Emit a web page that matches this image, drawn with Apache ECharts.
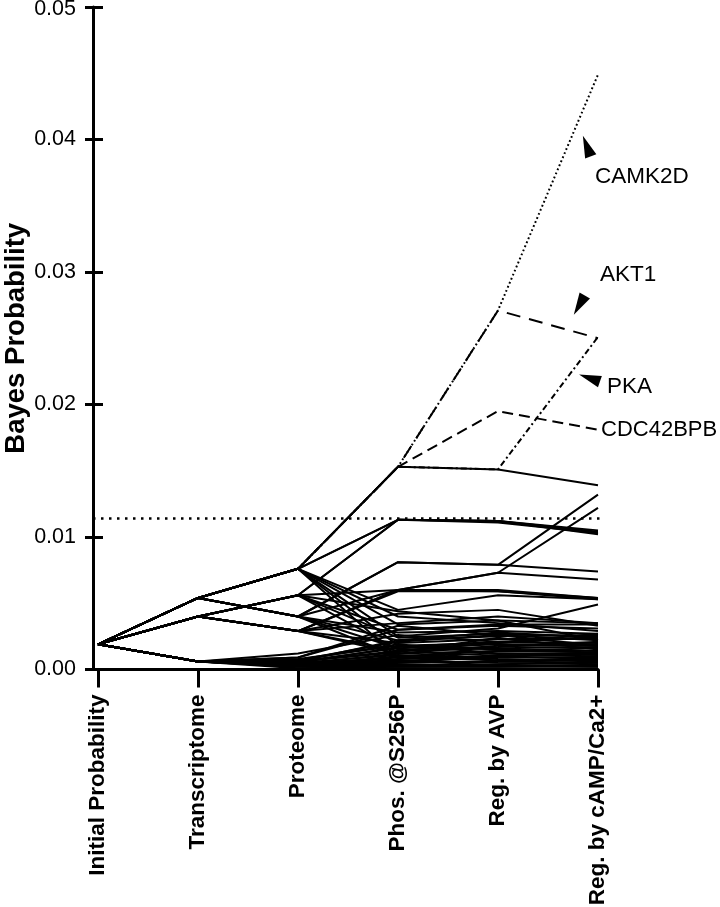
<!DOCTYPE html>
<html>
<head>
<meta charset="utf-8">
<script src="https://cdn.jsdelivr.net/npm/echarts@6/dist/echarts.min.js"></script>
<style>
html,body{margin:0;padding:0;background:#fff;}
#chart{width:720px;height:907px;}
</style>
</head>
<body>
<div id="chart"></div>
<script>
// ---------- DATA ----------
var categories = ['Initial Probability','Transcriptome','Proteome','Phos. @S256P','Reg. by AVP','Reg. by cAMP/Ca2+'];
var yTicks = [0.00, 0.01, 0.02, 0.03, 0.04, 0.05];
var threshold = 0.0114;

var camk2d   = [0.0019, 0.0054, 0.0076, 0.0153, 0.0271, 0.0449];
var akt1     = [0.0019, 0.0054, 0.0076, 0.0153, 0.0271, 0.0250];
var pka      = [0.0019, 0.0054, 0.0076, 0.0153, 0.0151, 0.0251];
var cdc42bpb = [0.0019, 0.0054, 0.0076, 0.0153, 0.0195, 0.0181];

var otherKinases = [
  [0.0019,0.0054,0.0076,0.0153,0.0151,0.0139],
  [0.0019,0.0054,0.0076,0.0113,0.0112,0.0104],
  [0.0019,0.0054,0.0076,0.0113,0.0112,0.0102],
  [0.0019,0.0040,0.0056,0.0113,0.0112,0.0105],
  [0.0019,0.0040,0.0056,0.0113,0.0111,0.0103],
  [0.0019,0.0054,0.0040,0.0081,0.0079,0.0074],
  [0.0019,0.0054,0.0040,0.0081,0.0079,0.0132],
  [0.0019,0.0040,0.0029,0.0060,0.0073,0.0068],
  [0.0019,0.0040,0.0029,0.0060,0.0073,0.0122],
  [0.0019,0.0054,0.0040,0.0060,0.0060,0.0054],
  [0.0019,0.0040,0.0056,0.0060,0.0059,0.0053],
  [0.0019,0.0040,0.0029,0.0059,0.0059,0.0054],
  [0.0019,0.0054,0.0076,0.0034,0.0037,0.0035],
  [0.0019,0.0054,0.0076,0.0025,0.0031,0.0049],
  [0.0019,0.0054,0.0076,0.0018,0.0020,0.0027],
  [0.0019,0.0054,0.0076,0.0009,0.0010,0.0013],
  [0.0019,0.0054,0.0076,0.0045,0.0056,0.0053],
  [0.0019,0.0040,0.0056,0.0030,0.0034,0.0034],
  [0.0019,0.0040,0.0056,0.0024,0.0027,0.0025],
  [0.0019,0.0040,0.0056,0.0015,0.0017,0.0021],
  [0.0019,0.0040,0.0029,0.0035,0.0040,0.0035],
  [0.0019,0.0040,0.0029,0.0020,0.0023,0.0023],
  [0.0019,0.0040,0.0029,0.0012,0.0014,0.0016],
  [0.0019,0.0054,0.0040,0.0028,0.0029,0.0027],
  [0.0019,0.0054,0.0040,0.0016,0.0019,0.0019],
  [0.0019,0.0054,0.0040,0.0010,0.0012,0.0011],
  [0.0019,0.0006,0.0009,0.0030,0.0033,0.0031],
  [0.0019,0.0006,0.0006,0.0022,0.0025,0.0026],
  [0.0019,0.0006,0.0006,0.0014,0.0016,0.0017],
  [0.0019,0.0006,0.0005,0.0008,0.0009,0.0009],
  [0.0019,0.0006,0.0004,0.0005,0.0006,0.0007],
  [0.0019,0.0006,0.0003,0.0003,0.0004,0.0005],
  [0.0019,0.0006,0.0002,0.0002,0.0002,0.0003],
  [0.0019,0.0006,0.0002,0.0001,0.0001,0.0001],
  [0.0019,0.0006,0.0012,0.0026,0.0021,0.0024],
  [0.0019,0.0006,0.0008,0.0018,0.0015,0.0014],
  [0.0019,0.0006,0.0005,0.0011,0.0008,0.0006],
  [0.0019,0.0006,0.0004,0.0007,0.0005,0.0004],
  [0.0019,0.0006,0.0003,0.0004,0.0003,0.0002],
  [0.0019,0.0006,0.0001,0.0001,0.0000,0.0000],
  [0.0019,0.0040,0.0029,0.0042,0.0045,0.0033],
  [0.0019,0.0054,0.0076,0.0040,0.0035,0.0029],
  [0.0019,0.0040,0.0056,0.0044,0.0037,0.0022],
  [0.0019,0.0006,0.0009,0.0033,0.0026,0.0018],
  [0.0019,0.0006,0.0007,0.0019,0.0012,0.0012],
  [0.0019,0.0006,0.0006,0.0013,0.0024,0.0015],
  [0.0019,0.0006,0.0005,0.0006,0.0011,0.0010],
  [0.0019,0.0006,0.0004,0.0009,0.0007,0.0008],
  [0.0019,0.0006,0.0005,0.0017,0.0021,0.0020],
  [0.0019,0.0006,0.0004,0.0012,0.0018,0.0018],
  [0.0019,0.0006,0.0003,0.0010,0.0014,0.0013],
  [0.0019,0.0006,0.0007,0.0021,0.0026,0.0022],
  [0.0019,0.0006,0.0005,0.0005,0.0010,0.0008],
  [0.0019,0.0040,0.0029,0.0014,0.0020,0.0025],
  [0.0019,0.0054,0.0040,0.0022,0.0028,0.0024],
  [0.0019,0.0006,0.0006,0.0016,0.0006,0.0005],
  [0.0019,0.0006,0.0003,0.0007,0.0003,0.0003]
];

// annotation labels (text + anchor in data units)
var annotationNames = ['CAMK2D','AKT1','PKA'];
var annotationX = [4.97, 5.02, 5.09];
var annotationY = [0.0372, 0.0298, 0.0213];
var arrowX = [4.888, 4.813, 4.915];
var arrowY = [0.0395, 0.0275, 0.0220];
var arrowRotate = [21, 150, 71];

// ---------- CHART ----------
var FONT = "'Liberation Sans', Arial, Helvetica, sans-serif";
function toPairs(arr){ return arr.map(function(v,i){ return [i, v]; }); }

var series = [];
otherKinases.forEach(function(p){
  series.push({type:'line', data: toPairs(p), showSymbol:false, silent:true,
    lineStyle:{color:'#000', width:2}, z:2});
});
series.push({type:'line', data: toPairs(camk2d), showSymbol:false, silent:true,
  lineStyle:{color:'#000', width:2, type:[1.8,2.6]}, z:3});
series.push({type:'line', data: toPairs(akt1), showSymbol:false, silent:true,
  lineStyle:{color:'#000', width:2, type:[14,9]}, z:3});
series.push({type:'line', data: toPairs(pka), showSymbol:false, silent:true,
  lineStyle:{color:'#000', width:2, type:[6,3,2,3]}, z:3});
series.push({type:'line', data: toPairs(cdc42bpb), showSymbol:false, silent:true,
  lineStyle:{color:'#000', width:2, type:[11,6]}, z:3,
  endLabel:{show:true, formatter:'CDC42BPB', fontFamily:FONT, fontSize:22, color:'#000', distance:3}});
// threshold
series.push({type:'line', data:[[-0.05, threshold],[5.22, threshold]], showSymbol:false, silent:true, clip:false,
  lineStyle:{color:'#000', width:2.5, type:[2.5,5.5]}, z:4});
// arrows
series.push({type:'scatter', clip:false, silent:true, z:5,
  data: arrowX.map(function(x,i){ return {value:[x, arrowY[i]], symbolRotate: arrowRotate[i]}; }),
  symbol:'triangle', symbolSize:[12,22], itemStyle:{color:'#000', opacity:1}});
// labels
series.push({type:'scatter', clip:false, silent:true, z:5,
  data: annotationX.map(function(x,i){ return {value:[x, annotationY[i]], name: annotationNames[i]}; }),
  symbolSize:0, itemStyle:{opacity:1, color:'#000'},
  label:{show:true, position:'right', distance:0, formatter:function(p){return p.name;},
    fontFamily:FONT, fontSize:22.5, color:'#000', opacity:1}});

var chart = echarts.init(document.getElementById('chart'), null, {renderer:'canvas'});
chart.setOption({
  animation:false,
  backgroundColor:'#fff',
  grid:{left:93, right:122, top:7, bottom:237.5, containLabel:false, outerBoundsMode:'none'},
  xAxis:{
    type:'value', min:-0.05, max:5,
    axisLine:{show:true, onZero:false, lineStyle:{color:'#000', width:3}},
    axisTick:{show:true, customValues:[0,1,2,3,4,5], length:18, lineStyle:{color:'#000', width:3}},
    axisLabel:{customValues:[0,1,2,3,4,5], rotate:90, margin:25, color:'#000',
      fontFamily:FONT, fontWeight:'bold', fontSize:22.5,
      formatter:function(v){ return categories[Math.round(v)]; }},
    splitLine:{show:false}
  },
  yAxis:[{
    type:'value', min:0, max:0.05, interval:0.01, position:'left',
    axisLine:{show:true, onZero:false, lineStyle:{color:'#000', width:3}},
    axisTick:{show:true, length:8, lineStyle:{color:'#000', width:3}},
    axisLabel:{margin:17, color:'#000', fontFamily:FONT, fontSize:21.5,
      formatter:function(v){ return v >= 0.0499 ? '{top|' + v.toFixed(2) + '}' : v.toFixed(2); },
      rich:{top:{fontFamily:FONT, fontSize:21.5, color:'#000', padding:[5,0,0,0]}}},
    splitLine:{show:false},
    name:'Bayes Probability', nameLocation:'middle', nameGap:63, nameMoveOverlap:false,
    nameTextStyle:{fontFamily:FONT, fontWeight:'bold', fontSize:27.5, color:'#000'}
  },{
    type:'value', min:0, max:0.05, interval:0.01, position:'left',
    axisLine:{show:false, onZero:false},
    axisTick:{show:true, inside:true, length:10, lineStyle:{color:'#000', width:3}},
    axisLabel:{show:false}, splitLine:{show:false}
  }],
  series: series
});
</script>
</body>
</html>
